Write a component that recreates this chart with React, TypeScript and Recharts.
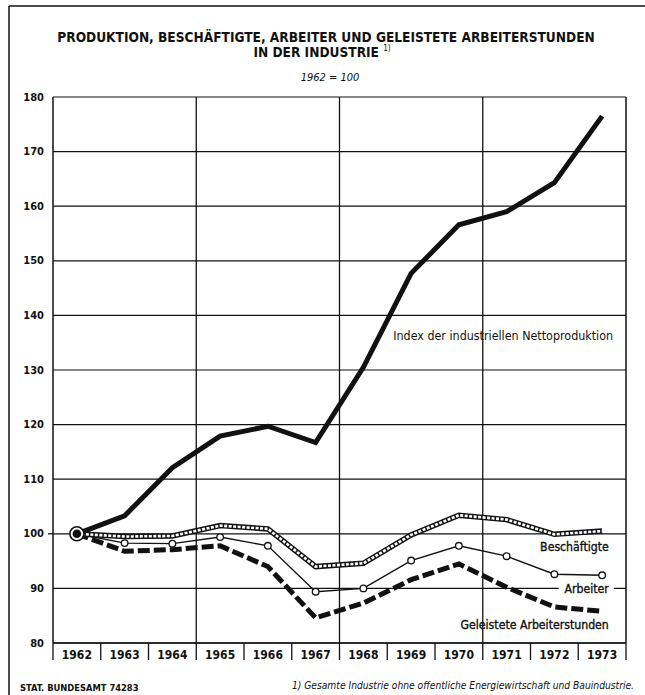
import React from "react";
import {
  LineChart,
  Line,
  XAxis,
  YAxis,
  CartesianGrid,
  ReferenceLine,
  ReferenceDot,
} from "recharts";

const years = [1962, 1963, 1964, 1965, 1966, 1967, 1968, 1969, 1970, 1971, 1972, 1973];
const produktion = [100, 103.3, 112.1, 117.9, 119.7, 116.7, 130.5, 147.7, 156.6, 159.0, 164.3, 176.5];
const beschaeftigte = [100, 99.5, 99.6, 101.5, 100.9, 94.0, 94.6, 99.8, 103.4, 102.6, 99.9, 100.5];
const arbeiter = [100, 98.3, 98.2, 99.4, 97.8, 89.4, 90.0, 95.1, 97.8, 95.9, 92.6, 92.4];
const stunden = [100, 96.8, 97.1, 97.8, 94.0, 84.6, 87.3, 91.6, 94.5, 90.2, 86.6, 85.8];

const yTicks = [80, 90, 100, 110, 120, 130, 140, 150, 160, 170, 180];
const separators = [1961.5, 1962.5, 1963.5, 1964.5, 1965.5, 1966.5, 1967.5, 1968.5, 1969.5, 1970.5, 1971.5, 1972.5, 1973.5];
const vGrid = [1964.5, 1967.5, 1970.5];

const data = years.map((y, i) => ({
  year: y,
  prod: produktion[i],
  besch: beschaeftigte[i],
  arb: arbeiter[i],
  std: stunden[i],
}));

const FONT = "'DejaVu Sans Condensed', 'Liberation Sans Narrow', 'DejaVu Sans', sans-serif";
const INK = "#111";

const XTick = (props: any) => {
  const { x, y, payload } = props;
  const v = payload.value as number;
  if (Math.abs(v - Math.round(v)) > 0.01) {
    return <line x1={x} x2={x} y1={y} y2={y + 17} stroke={INK} strokeWidth={1.3} />;
  }
  return (
    <text x={x} y={y + 12} textAnchor="middle" dominantBaseline="central" fontFamily={FONT} fontWeight="bold" fontSize={12} fill={INK}>
      {v}
    </text>
  );
};

const YTick = (props: any) => {
  const { x, y, payload } = props;
  return (
    <g>
      {payload.value === 100 && <line x1={x + 4} x2={x + 9} y1={y} y2={y} stroke={INK} strokeWidth={1.3} />}
      <text x={x} y={y} textAnchor="end" dominantBaseline="central" fontFamily={FONT} fontWeight="bold" fontSize={11} fill={INK}>
        {payload.value}
      </text>
    </g>
  );
};

const makeLabel = (text: string, opts: { size?: number; heavy?: boolean; bg?: boolean; bgWidth?: number } = {}) =>
  (props: any) => {
    const vb = props.viewBox || {};
    const x = vb.x ?? 0;
    const y = vb.y ?? 0;
    return (
      <g>
        {opts.bg && <rect x={x - (opts.bgWidth || 50)} y={y - 7} width={(opts.bgWidth || 50) + 5} height={14} fill="#fff" />}
        <text
          x={x}
          y={y}
          textAnchor="end"
          dominantBaseline="central"
          fontFamily={FONT}
          fontSize={opts.size || 11.5}
          fill={INK}
          stroke={opts.heavy ? INK : "none"}
          strokeWidth={opts.heavy ? 0.35 : 0}
        >
          {text}
        </text>
      </g>
    );
  };

export default function App() {
  return (
    <div style={{ position: "absolute", left: 0, top: 0, width: 645, height: 695, background: "#fff" }}>
      <svg width={645} height={695} style={{ position: "absolute", left: 0, top: 0 }}>
        <line x1={9} x2={645} y1={6} y2={6} stroke={INK} strokeWidth={1.5} />
        <line x1={9} x2={9} y1={6} y2={695} stroke={INK} strokeWidth={1.5} />
        <text x={326} y={37} textAnchor="middle" dominantBaseline="central" fontFamily={FONT} fontWeight="bold" fontSize={13.6} fill={INK}>
          PRODUKTION, BESCHÄFTIGTE, ARBEITER UND GELEISTETE ARBEITERSTUNDEN
        </text>
        <text x={322} y={52} textAnchor="middle" dominantBaseline="central" fontFamily={FONT} fontWeight="bold" fontSize={13.6} fill={INK}>
          IN DER INDUSTRIE <tspan fontSize={8} fontWeight="normal" dy={-4}>1)</tspan>
        </text>
        <text x={330} y={77} textAnchor="middle" dominantBaseline="central" fontFamily={FONT} fontStyle="italic" fontSize={11} fill={INK}>
          1962 = 100
        </text>
        <text x={20} y={687} dominantBaseline="central" fontFamily={FONT} fontWeight="bold" fontSize={9.3} fill={INK}>
          STAT. BUNDESAMT 74283
        </text>
        <text x={634} y={685} textAnchor="end" dominantBaseline="central" fontFamily={FONT} fontStyle="italic" fontSize={10.2} fill={INK}>
          1) Gesamte Industrie ohne offentliche Energiewirtschaft und Bauindustrie.
        </text>
      </svg>
      <div style={{ position: "absolute", left: 0, top: 0 }}>
        <LineChart width={645} height={695} data={data} margin={{ top: 97, right: 19, bottom: 0, left: 13 }}>
          <CartesianGrid horizontal vertical={false} stroke={INK} strokeWidth={1.2} />
          {vGrid.map((v) => (
            <ReferenceLine key={v} x={v} stroke={INK} strokeWidth={1.3} />
          ))}
          <ReferenceLine x={1973.5} stroke={INK} strokeWidth={1.5} />
          <XAxis
            dataKey="year"
            type="number"
            domain={[1961.5, 1973.5]}
            ticks={[...years, ...separators]}
            interval={0}
            height={52}
            tickSize={0}
            tickMargin={0}
            tickLine={false}
            axisLine={{ stroke: INK, strokeWidth: 1.5 }}
            tick={<XTick />}
            allowDataOverflow
          />
          <YAxis
            domain={[80, 180]}
            ticks={yTicks}
            interval={0}
            width={40}
            tickSize={0}
            tickMargin={9}
            tickLine={false}
            axisLine={{ stroke: INK, strokeWidth: 1.5 }}
            tick={<YTick />}
            allowDataOverflow
          />
          <Line dataKey="std" stroke={INK} strokeWidth={5} strokeDasharray="12 4" dot={false} isAnimationActive={false} />
          <Line dataKey="arb" stroke={INK} strokeWidth={1.4} dot={{ r: 3.3, fill: "#fff", stroke: INK, strokeWidth: 1.3 }} isAnimationActive={false} />
          <Line dataKey="besch" stroke={INK} strokeWidth={5.5} dot={false} isAnimationActive={false} />
          <Line dataKey="besch" stroke="#fff" strokeWidth={2.6} strokeDasharray="3 1.5" dot={false} isAnimationActive={false} />
          <Line dataKey="prod" stroke={INK} strokeWidth={5} dot={false} isAnimationActive={false} />
          <ReferenceDot x={1962} y={100} r={7} fill="#fff" stroke={INK} strokeWidth={1.6} />
          <ReferenceDot x={1962} y={100} r={4.3} fill={INK} stroke="none" />
          <ReferenceDot x={1973.23} y={136.4} r={0} stroke="none" label={makeLabel("Index der industriellen Nettoproduktion", { size: 12.4 })} />
          <ReferenceDot x={1973.14} y={97.6} r={0} stroke="none" label={makeLabel("Beschäftigte", { size: 12.2, heavy: true })} />
          <ReferenceDot x={1973.14} y={89.9} r={0} stroke="none" label={makeLabel("Arbeiter", { size: 12.2, heavy: true, bg: true, bgWidth: 50 })} />
          <ReferenceDot x={1973.14} y={83.3} r={0} stroke="none" label={makeLabel("Geleistete Arbeiterstunden", { size: 12.2, heavy: true })} />
        </LineChart>
      </div>
    </div>
  );
}
